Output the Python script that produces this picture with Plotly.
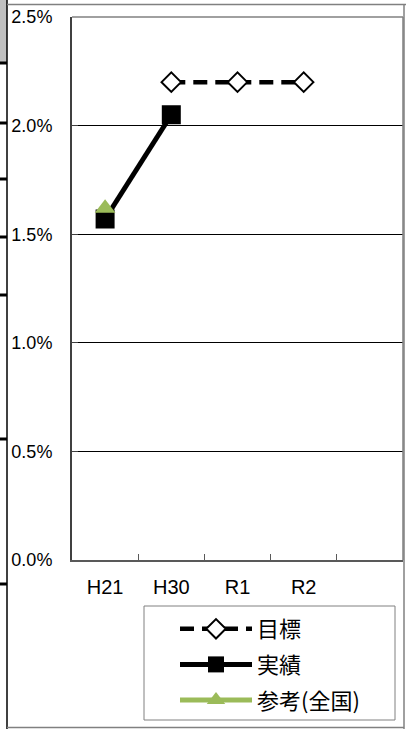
import plotly.graph_objects as go

# Fiscal-year categories (the last slot is an empty spacer column)
categories = ["H21", "H30", "R1", "R2", " "]

# 目標 (target)
target_x = ["H30", "R1", "R2"]
target_y = [0.022, 0.022, 0.022]

# 実績 (actual)
actual_x = ["H21", "H30"]
actual_y = [0.0157, 0.0205]

# 参考(全国) (national reference)
national_x = ["H21"]
national_y = [0.0162]

y_ticks = [0, 0.005, 0.010, 0.015, 0.020, 0.025]

W, H = 408, 729
L, R, T, B = 72, 5, 17, 169
PW, PH = W - L - R, H - T - B


def px_x(x):
    return (x - L) / PW


def px_y(y):
    return (H - B - y) / PH


fig = go.Figure()

fig.add_trace(go.Scatter(
    x=target_x, y=target_y, name="目標", legendgroup="a",
    mode="lines+markers",
    line=dict(color="black", width=4.5, dash="14px,8px"),
    marker=dict(symbol="diamond", size=15, color="white",
                line=dict(color="black", width=2)),
))
fig.add_trace(go.Scatter(
    x=actual_x, y=actual_y, name="実績", legendgroup="b",
    mode="lines+markers",
    line=dict(color="black", width=5),
    marker=dict(symbol="square", size=19, color="black"),
))
fig.add_trace(go.Scatter(
    x=national_x, y=national_y, name="参考(全国)", legendgroup="c",
    mode="lines+markers",
    line=dict(color="#9BBB59", width=5),
    marker=dict(symbol="triangle-up", size=18, color="#9BBB59"),
))

shapes = []
# surrounding frame pieces
shapes.append(dict(type="rect", xref="paper", yref="paper",
                   x0=px_x(-2), x1=px_x(7), y0=px_y(63), y1=px_y(-2),
                   fillcolor="#C0C0C0", line=dict(width=0), layer="below"))
shapes.append(dict(type="line", xref="paper", yref="paper",
                   x0=px_x(7), x1=px_x(7), y0=px_y(-2), y1=px_y(731),
                   line=dict(color="black", width=1.5)))
for yy in [63, 123, 179, 237, 295, 439, 584]:
    shapes.append(dict(type="line", xref="paper", yref="paper",
                       x0=px_x(-2), x1=px_x(7), y0=px_y(yy), y1=px_y(yy),
                       line=dict(color="black", width=3)))
shapes.append(dict(type="line", xref="paper", yref="paper",
                   x0=px_x(7), x1=px_x(406), y0=px_y(4.5), y1=px_y(4.5),
                   line=dict(color="#808080", width=1.5)))
shapes.append(dict(type="line", xref="paper", yref="paper",
                   x0=px_x(404), x1=px_x(404), y0=px_y(4.5), y1=px_y(731),
                   line=dict(color="#808080", width=1.5)))
shapes.append(dict(type="line", xref="paper", yref="paper",
                   x0=px_x(7), x1=px_x(404), y0=px_y(727.5), y1=px_y(727.5),
                   line=dict(color="#808080", width=1.5)))
# plot area top / right border
shapes.append(dict(type="line", xref="paper", yref="paper",
                   x0=0, x1=1, y0=1, y1=1,
                   line=dict(color="#808080", width=1.5)))
shapes.append(dict(type="line", xref="paper", yref="paper",
                   x0=1, x1=1, y0=0, y1=1,
                   line=dict(color="#808080", width=1.5)))
# legend box
shapes.append(dict(type="rect", xref="paper", yref="paper",
                   x0=px_x(144), x1=px_x(395), y0=px_y(720), y1=px_y(606),
                   line=dict(color="#808080", width=1), fillcolor="rgba(0,0,0,0)"))

fig.update_layout(
    width=W, height=H,
    margin=dict(l=L, r=R, t=T, b=B),
    paper_bgcolor="white", plot_bgcolor="white",
    font=dict(family="Liberation Sans, Arial, Noto Sans CJK JP", size=18, color="black"),
    showlegend=True,
    legend=dict(
        x=px_x(175), y=px_y(608), xanchor="left", yanchor="top",
        font=dict(family="Noto Sans CJK JP", size=22, color="black"),
        itemwidth=72, tracegroupgap=4, bgcolor="rgba(0,0,0,0)",
        borderwidth=0,
    ),
    shapes=shapes,
)
fig.update_xaxes(
    type="category", categoryorder="array", categoryarray=categories,
    range=[-0.5, 4.5], tickson="boundaries", ticks="inside", ticklen=6,
    tickcolor="#595959", tickwidth=1,
    showline=True, linecolor="#595959", linewidth=1.5,
    showgrid=False, zeroline=False, ticklabelstandoff=8,
    tickfont=dict(size=20),
)
fig.update_yaxes(
    range=[0, 0.025], tickvals=y_ticks, tickformat=".1%",
    ticks="inside", ticklen=6, tickcolor="#404040",
    showline=True, linecolor="#404040", linewidth=2,
    showgrid=True, gridcolor="black", gridwidth=1, zeroline=False,
    ticklabelstandoff=14,
)

fig.write_html("out.html")
